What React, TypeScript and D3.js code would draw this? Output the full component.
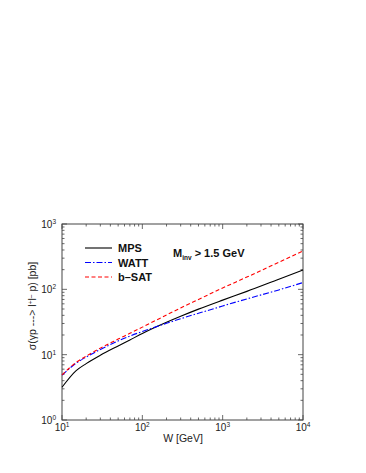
import React, { useEffect, useRef } from "react";
import * as d3 from "d3";

// W values (GeV) where curves were read
const energies = [10, 15, 20, 30, 50, 70, 100, 200, 300, 500, 1000, 2000, 5000, 10000];
// cross sections in pb
const mpsValues = [3.17, 5.7, 7.3, 9.8, 13.6, 16.8, 21.1, 31.3, 38.7, 49.8, 68.4, 93, 143, 198];
const wattValues = [4.85, 7.4, 9.2, 12.0, 16.2, 19.3, 22.6, 30.2, 35.5, 43, 55.6, 71.3, 98, 127];
const bsatValues = [4.9, 7.6, 9.5, 12.6, 17.3, 21.2, 26.4, 40.5, 51.9, 70, 105, 154, 260, 387];

const seriesNames = ["MPS", "WATT", "b\u2013SAT"];
const seriesColors = ["#000000", "#0000ff", "#ff0000"];
const seriesDash = [null, "6,2,1.5,2", "4,2.5"];
const xTicks = [10, 100, 1000, 10000];
const yTicks = [1, 10, 100, 1000];

export default function App() {
  const svgRef = useRef<SVGSVGElement>(null);

  useEffect(() => {
    const svg = d3.select(svgRef.current);
    svg.selectAll("*").remove();

    const left = 62, right = 303, top = 224, bottom = 420;
    const x = d3.scaleLog().domain([10, 10000]).range([left, right]);
    const y = d3.scaleLog().domain([1, 1000]).range([bottom, top]);
    const font = "'Liberation Sans', Arial, Helvetica, sans-serif";
    const axisColor = "#444";

    // frame
    svg.append("rect")
      .attr("x", left).attr("y", top)
      .attr("width", right - left).attr("height", bottom - top)
      .attr("fill", "none").attr("stroke", axisColor).attr("stroke-width", 1);

    // minor + major ticks, inward on all four sides
    const minorX: number[] = [];
    for (let d = 10; d < 10000; d *= 10) for (let k = 2; k <= 9; k++) minorX.push(d * k);
    const minorY: number[] = [];
    for (let d = 1; d < 1000; d *= 10) for (let k = 2; k <= 9; k++) minorY.push(d * k);

    const tk = svg.append("g").attr("stroke", axisColor).attr("stroke-width", 0.8);
    minorX.forEach((v) => {
      tk.append("line").attr("x1", x(v)).attr("x2", x(v)).attr("y1", bottom).attr("y2", bottom - 2.5);
      tk.append("line").attr("x1", x(v)).attr("x2", x(v)).attr("y1", top).attr("y2", top + 2.5);
    });
    xTicks.forEach((v) => {
      tk.append("line").attr("x1", x(v)).attr("x2", x(v)).attr("y1", bottom).attr("y2", bottom - 5);
      tk.append("line").attr("x1", x(v)).attr("x2", x(v)).attr("y1", top).attr("y2", top + 5);
    });
    minorY.forEach((v) => {
      tk.append("line").attr("x1", left).attr("x2", left + 2.5).attr("y1", y(v)).attr("y2", y(v));
      tk.append("line").attr("x1", right).attr("x2", right - 2.5).attr("y1", y(v)).attr("y2", y(v));
    });
    yTicks.forEach((v) => {
      tk.append("line").attr("x1", left).attr("x2", left + 5).attr("y1", y(v)).attr("y2", y(v));
      tk.append("line").attr("x1", right).attr("x2", right - 5).attr("y1", y(v)).attr("y2", y(v));
    });

    // tick labels
    const exp = (v: number) => Math.round(Math.log10(v)).toString();
    xTicks.forEach((v) => {
      const t = svg.append("text")
        .attr("x", x(v)).attr("y", bottom + 11)
        .attr("text-anchor", "middle")
        .attr("font-family", font).attr("font-size", 10).attr("fill", "#222");
      t.append("tspan").text("10");
      t.append("tspan").attr("dy", -4).attr("font-size", 6.5).text(exp(v));
    });
    yTicks.forEach((v) => {
      const t = svg.append("text")
        .attr("x", left - 6).attr("y", y(v) + 4)
        .attr("text-anchor", "end")
        .attr("font-family", font).attr("font-size", 10).attr("fill", "#222");
      t.append("tspan").text("10");
      t.append("tspan").attr("dy", -4).attr("font-size", 6.5).text(exp(v));
    });

    // axis titles
    svg.append("text")
      .attr("x", 183).attr("y", 442)
      .attr("text-anchor", "middle")
      .attr("font-family", font).attr("font-size", 10.5).attr("fill", "#222")
      .text("W [GeV]");

    const yl = svg.append("text")
      .attr("transform", `translate(36,306) rotate(-90)`)
      .attr("text-anchor", "middle")
      .attr("font-family", font).attr("font-size", 10.5).attr("fill", "#222");
    yl.append("tspan").text("\u03c3(\u03b3p ---> l");
    yl.append("tspan").attr("dy", -3.5).attr("font-size", 6.5).text("+");
    yl.append("tspan").attr("dy", 3.5).text("l");
    yl.append("tspan").attr("dy", -3.5).attr("font-size", 6.5).text("\u2013");
    yl.append("tspan").attr("dy", 3.5).text(" p) [pb]");

    // curves
    const allSeries = [mpsValues, wattValues, bsatValues];
    const line = d3.line<number>()
      .x((_, i) => x(energies[i]))
      .y((d) => y(d))
      .curve(d3.curveMonotoneX);

    const plot = svg.append("g");
    allSeries.forEach((vals, i) => {
      plot.append("path")
        .datum(vals)
        .attr("d", line)
        .attr("fill", "none")
        .attr("stroke", seriesColors[i])
        .attr("stroke-width", 1.1)
        .attr("stroke-dasharray", seriesDash[i]);
    });

    // legend
    const legendY = [248, 262.5, 277];
    seriesNames.forEach((name, i) => {
      plot.append("line")
        .attr("x1", 85).attr("x2", 112)
        .attr("y1", legendY[i]).attr("y2", legendY[i])
        .attr("stroke", seriesColors[i]).attr("stroke-width", 1.1)
        .attr("stroke-dasharray", seriesDash[i]);
      svg.append("text")
        .attr("x", 118).attr("y", legendY[i] + 4)
        .attr("font-family", font).attr("font-size", 11).attr("font-weight", "bold")
        .attr("fill", "#111")
        .text(name);
    });

    // annotation
    const ann = svg.append("text")
      .attr("x", 173).attr("y", 257)
      .attr("font-family", font).attr("font-size", 11).attr("font-weight", "bold")
      .attr("fill", "#111");
    ann.append("tspan").text("M");
    ann.append("tspan").attr("dy", 3).attr("font-size", 6.5).text("inv");
    ann.append("tspan").attr("dy", -3).text(" > 1.5 GeV");
  }, []);

  return (
    <svg
      ref={svgRef}
      width={366}
      height={473}
      style={{ position: "absolute", left: 0, top: 0, background: "#fff" }}
    />
  );
}
